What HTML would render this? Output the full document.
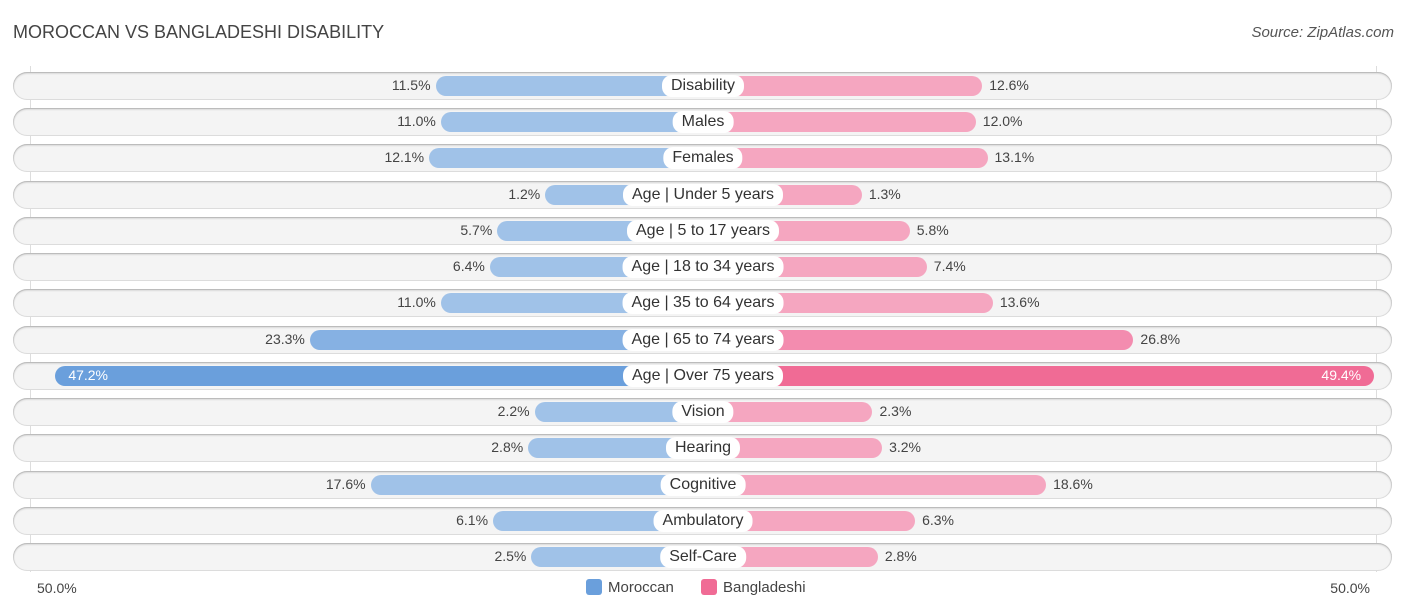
<!DOCTYPE html>
<html><head><meta charset="utf-8"><style>
body{margin:0;background:#fff;font-family:"Liberation Sans",sans-serif;}
#wrap{position:relative;width:1406px;height:612px;overflow:hidden;}
.t{position:absolute;white-space:nowrap;}
</style></head><body>
<div id="wrap">
<div class="t" style="left:13px;top:22px;font-size:18px;color:#444;">MOROCCAN VS BANGLADESHI DISABILITY</div>
<div class="t" style="right:12px;top:24px;font-size:15px;color:#555;font-style:italic;">Source: ZipAtlas.com</div>
<div style="position:absolute;left:30px;top:66px;width:1px;height:506px;background:#ddd"></div>
<div style="position:absolute;left:1376px;top:66px;width:1px;height:506px;background:#ddd"></div>
<div id="rows"></div>
<div class="t" style="left:37px;top:580px;font-size:14px;color:#444">50.0%</div>
<div class="t" style="right:36px;top:580px;font-size:14px;color:#444">50.0%</div>
<div class="t" style="left:586px;top:579px;font-size:15px;color:#444"><span style="display:inline-block;width:16px;height:16px;background:#6a9fdc;border-radius:3px;vertical-align:-3px;margin-right:6px"></span>Moroccan</div>
<div class="t" style="left:701px;top:579px;font-size:15px;color:#444"><span style="display:inline-block;width:16px;height:16px;background:#f06b95;border-radius:3px;vertical-align:-3px;margin-right:6px"></span>Bangladeshi</div>
</div>
<script>
const categories=["Disability","Males","Females","Age | Under 5 years","Age | 5 to 17 years","Age | 18 to 34 years","Age | 35 to 64 years","Age | 65 to 74 years","Age | Over 75 years","Vision","Hearing","Cognitive","Ambulatory","Self-Care"];
const moroccan=[11.5,11.0,12.1,1.2,5.7,6.4,11.0,23.3,47.2,2.2,2.8,17.6,6.1,2.5];
const bangladeshi=[12.6,12.0,13.1,1.3,5.8,7.4,13.6,26.8,49.4,2.3,3.2,18.6,6.3,2.8];
const cx=703;
function w(v){return 145+v*10.65;}
function y(i){return 86+i*36.23;}
const rows=document.getElementById('rows');
categories.forEach((c,i)=>{
  const yc=y(i);
  const bg=document.createElement('div');
  
  
  bg.style.cssText=`position:absolute;left:13px;width:1379px;top:${yc-14}px;height:28px;border-radius:14px;background:#f4f4f4;box-shadow:0 1px 2px rgba(0,0,0,0.25) inset, 0 0 0 1px #e2e2e2 inset;`;
  rows.appendChild(bg);
  const big=moroccan[i]>40||bangladeshi[i]>40;
  const lw=w(moroccan[i]);
  const lb=document.createElement('div');
  
  
  lb.style.cssText=`position:absolute;left:${cx-lw}px;width:${lw}px;top:${yc-10}px;height:20px;border-radius:10px 0 0 10px;background:${moroccan[i]>40?'#6a9fdc':(moroccan[i]>20?'#86b1e3':'#a0c2e8')};`;
  rows.appendChild(lb);
  const rw=w(bangladeshi[i]);
  const rb=document.createElement('div');
  
  
  rb.style.cssText=`position:absolute;left:${cx}px;width:${rw}px;top:${yc-10}px;height:20px;border-radius:0 10px 10px 0;background:${bangladeshi[i]>40?'#f06b95':(bangladeshi[i]>20?'#f38caf':'#f5a6c0')};`;
  rows.appendChild(rb);
  const lab=document.createElement('div');
  
  
  lab.className='t';
  lab.textContent=c;
  lab.style.cssText+=`left:${cx}px;top:${yc-11}px;transform:translateX(-50%);background:#fff;border-radius:10px;padding:1px 9px;font-size:16px;color:#333;line-height:20px;`;
  rows.appendChild(lab);
  const lv=document.createElement('div');
  
  
  lv.className='t';
  lv.textContent=moroccan[i].toFixed(1)+'%';
  if(big) lv.style.cssText+=`left:${cx-lw+13}px;top:${yc-9}px;font-size:14px;color:#fff;`;
  else lv.style.cssText+=`right:${1406-(cx-lw)+5}px;top:${yc-9}px;font-size:14px;color:#444;`;
  rows.appendChild(lv);
  const rv=document.createElement('div');
  
  
  rv.className='t';
  rv.textContent=bangladeshi[i].toFixed(1)+'%';
  if(big) rv.style.cssText+=`right:${1406-(cx+rw)+13}px;top:${yc-9}px;font-size:14px;color:#fff;`;
  else rv.style.cssText+=`left:${cx+rw+7}px;top:${yc-9}px;font-size:14px;color:#444;`;
  rows.appendChild(rv);
});
</script>
</body></html>
